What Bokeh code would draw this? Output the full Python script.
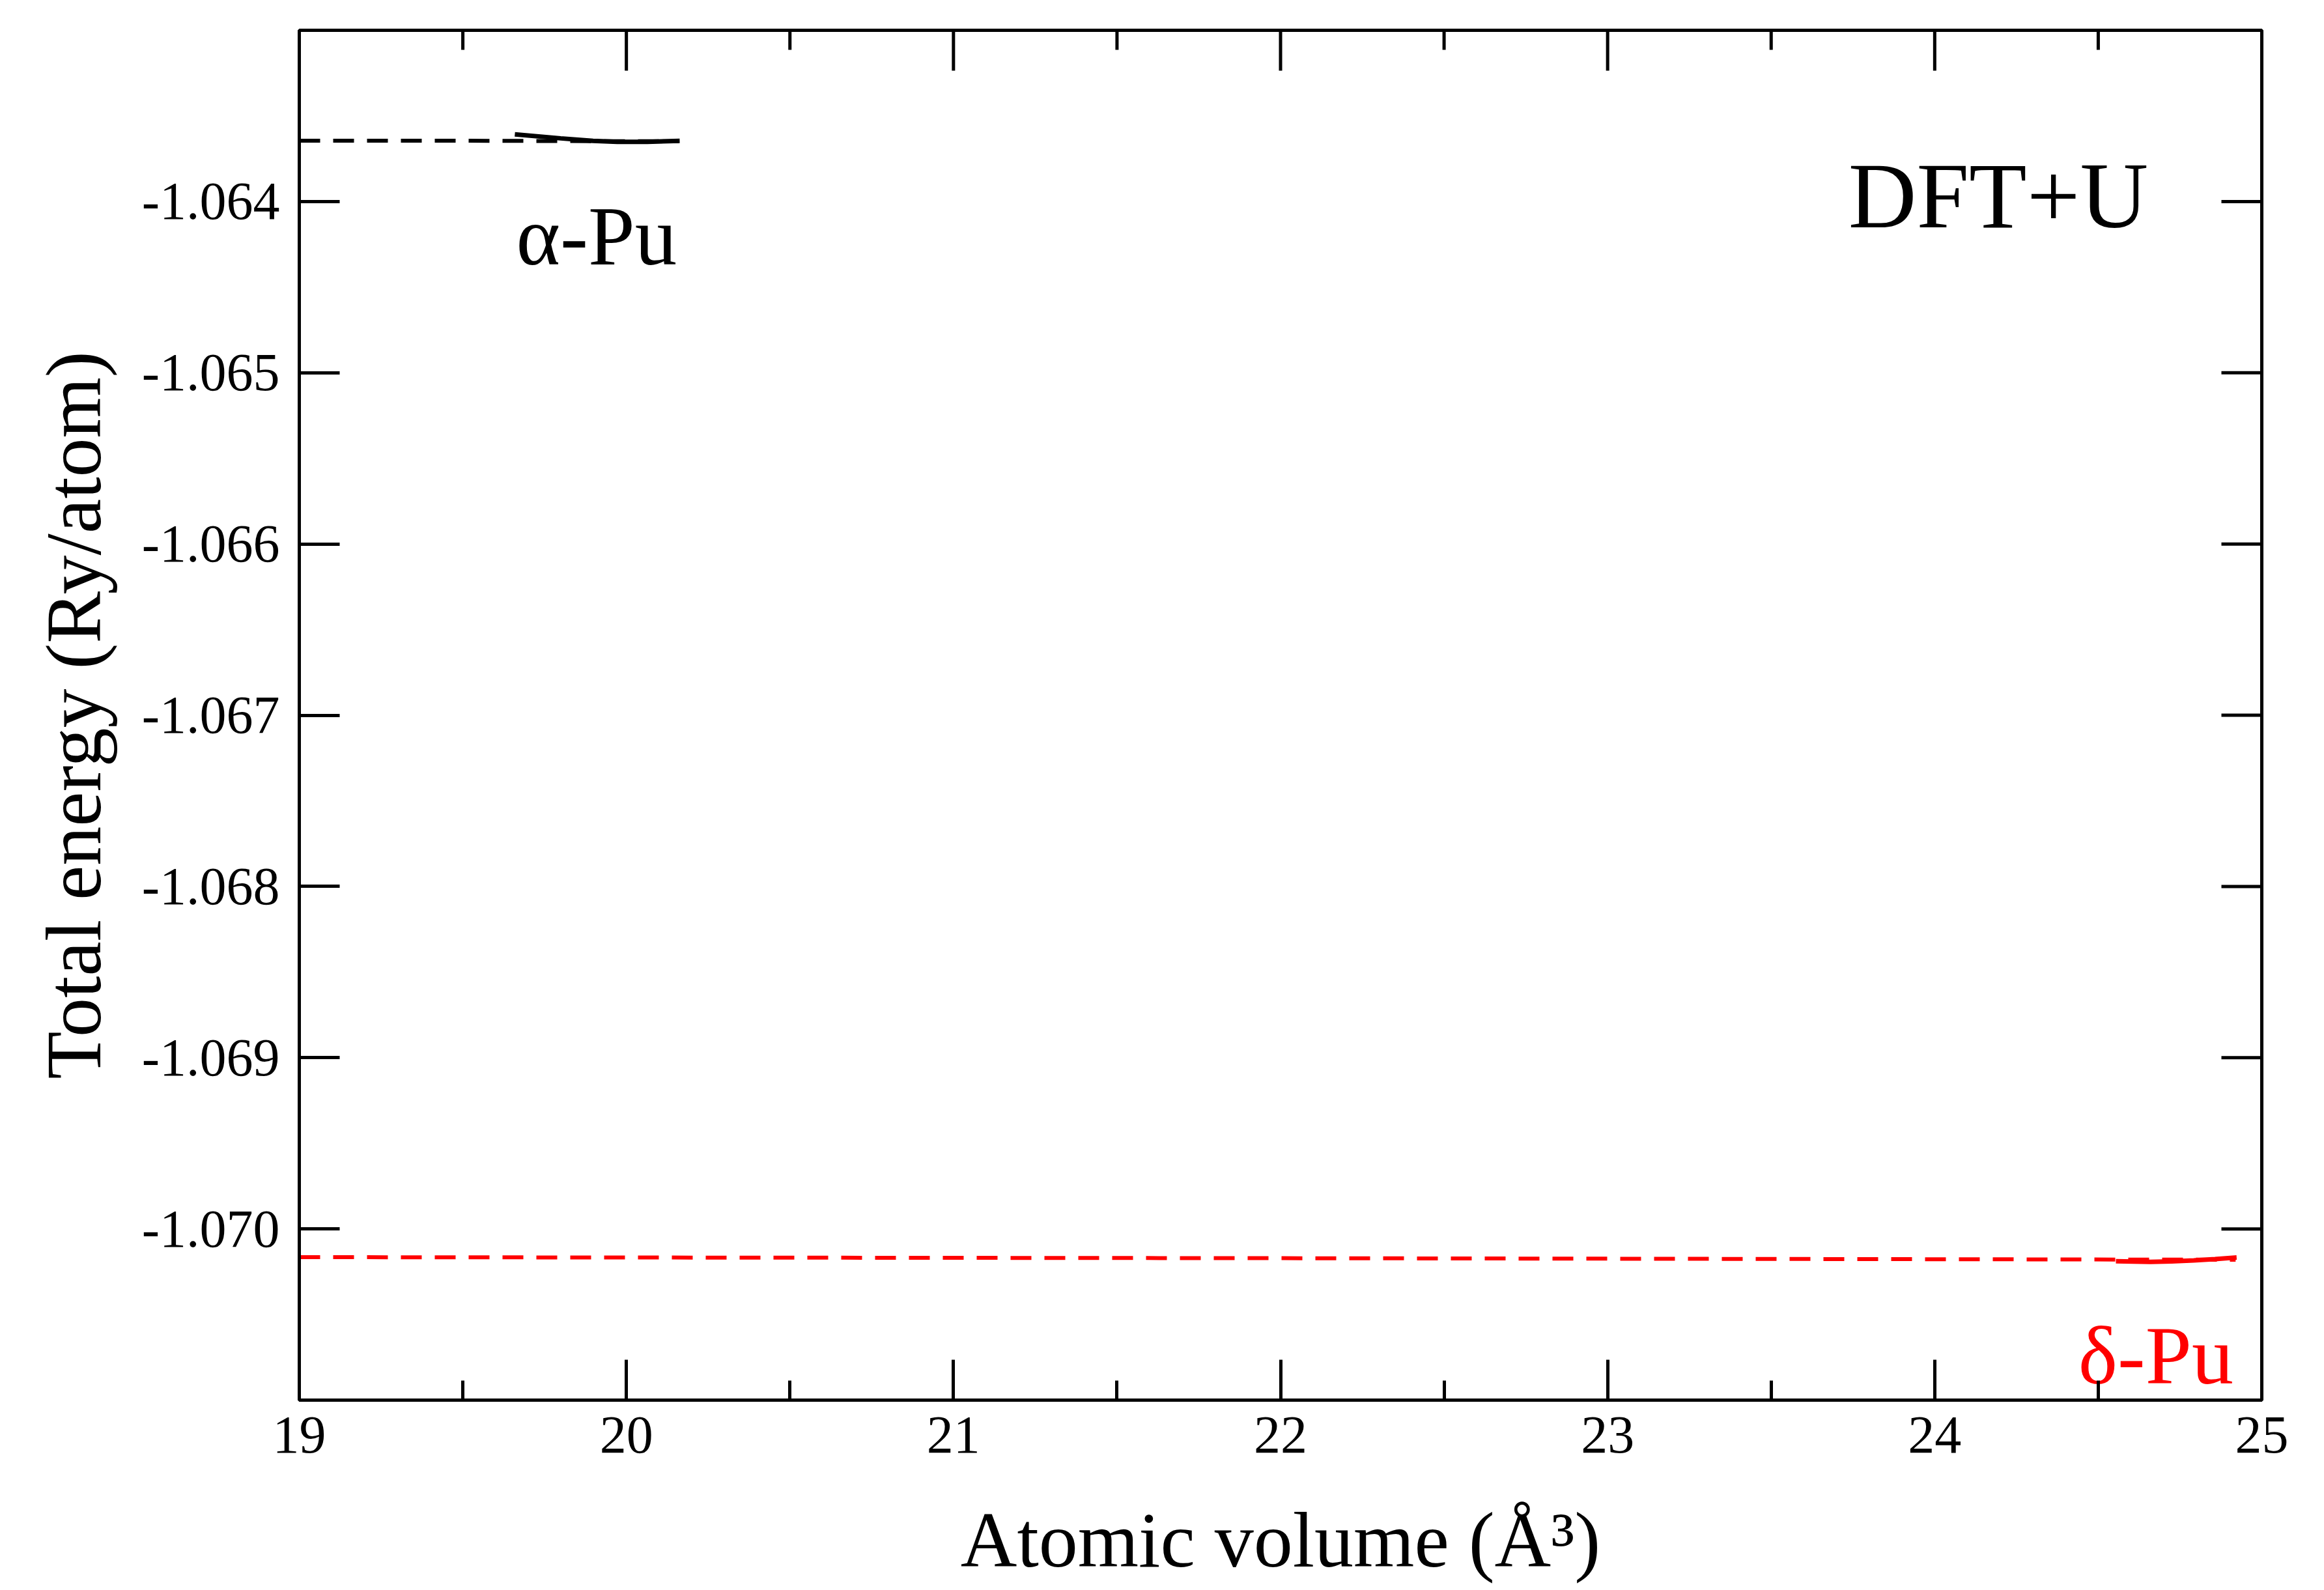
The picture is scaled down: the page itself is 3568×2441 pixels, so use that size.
import math
from bokeh.plotting import figure
from bokeh.models import Range1d, FixedTicker, PrintfTickFormatter, ColumnDataSource
from bokeh.core.properties import value
from bokeh.embed import file_html
from bokeh.resources import INLINE

# ---- data ----
x_lo, x_hi = 19, 25
y_lo, y_hi = -1.071, -1.063
x_major = [19, 20, 21, 22, 23, 24, 25]
x_minor = [19.5, 20.5, 21.5, 22.5, 23.5, 24.5]
y_major = [-1.070, -1.069, -1.068, -1.067, -1.066, -1.065, -1.064]

alpha_x = [19.659, 19.799, 19.898, 19.972, 20.064, 20.163]
alpha_y = [-1.063608, -1.063631, -1.063646, -1.063651, -1.063651, -1.063646]
alpha_fit_x = [19.0, 19.5, 20.0, 20.16]
alpha_fit_y = [-1.063645, -1.063645, -1.063648, -1.063648]

delta_x = [24.554, 24.658, 24.724, 24.792, 24.857, 24.923]
delta_y = [-1.070189, -1.070193, -1.070190, -1.070184, -1.070176, -1.070167]
delta_fit_x = [19.0, 20.0, 21.0, 22.0, 23.0, 24.0, 24.92]
delta_fit_y = [-1.070165, -1.070167, -1.070169, -1.070171, -1.070174, -1.070177, -1.070180]

label_text = ["DFT+U", "\u03b1-Pu", "\u03b4-Pu"]
label_x = [23.736, 19.663, 24.439]
label_y = [-1.063966, -1.064202, -1.070738]
label_color = ["black", "black", "red"]
label_size = ["145px", "129px", "128px"]

FONT = "Liberation Serif"

p = figure(width=3568, height=2441,
           x_range=Range1d(x_lo, x_hi), y_range=Range1d(y_lo, y_hi),
           output_backend="svg", toolbar_location=None,
           min_border_left=459, min_border_right=96,
           min_border_top=46, min_border_bottom=292)
p.grid.visible = False
p.outline_line_color = "black"
p.outline_line_width = 5
p.background_fill_color = "white"
p.border_fill_color = "white"


def style(ax):
    ax.axis_line_width = 5
    ax.axis_line_color = "black"
    ax.major_tick_in = 62
    ax.major_tick_out = 0
    ax.minor_tick_in = 30
    ax.minor_tick_out = 0
    ax.major_tick_line_width = 5
    ax.minor_tick_line_width = 5
    ax.major_label_text_font = FONT
    ax.axis_label_text_font = FONT
    ax.axis_label_text_font_style = "normal"
    ax.major_label_text_color = "black"
    ax.axis_label_text_color = "black"


xa = p.xaxis[0]
xa.ticker = FixedTicker(ticks=x_major, minor_ticks=x_minor)
style(xa)
xa.major_label_text_font_size = "82px"
xa.major_label_standoff = 26
xa.axis_label = "Atomic volume (\u00c5\u00b3)"
xa.axis_label_text_font_size = "120px"
xa.axis_label_standoff = 65

ya = p.yaxis[0]
ya.ticker = FixedTicker(ticks=y_major, minor_ticks=[])
style(ya)
ya.formatter = PrintfTickFormatter(format="%.3f")
ya.major_label_text_font_size = "82px"
ya.major_label_standoff = 30
ya.axis_label = "Total energy (Ry/atom)"
ya.axis_label_text_font_size = "120px"
ya.axis_label_standoff = 35

# mirrored inward ticks on the top and right edges
p.ray(x=x_major, y=[y_hi] * len(x_major), length=62, length_units="screen",
      angle=-math.pi / 2, line_color="black", line_width=5)
p.ray(x=x_minor, y=[y_hi] * len(x_minor), length=30, length_units="screen",
      angle=-math.pi / 2, line_color="black", line_width=5)
p.ray(x=[x_hi] * len(y_major), y=y_major, length=62, length_units="screen",
      angle=math.pi, line_color="black", line_width=5)

p.line(alpha_fit_x, alpha_fit_y, line_color="black", line_width=6, line_dash="32 20")
p.line(alpha_x, alpha_y, line_color="black", line_width=7)
p.line(delta_fit_x, delta_fit_y, line_color="red", line_width=6, line_dash="32 20")
p.line(delta_x, delta_y, line_color="red", line_width=7)

src = ColumnDataSource(dict(x=label_x, y=label_y, text=label_text,
                            color=label_color, size=label_size))
p.text(x="x", y="y", text="text", source=src, text_color="color",
       text_font_size="size", text_font=value(FONT),
       text_align="left", text_baseline="alphabetic")

open("out.html", "w").write(file_html(p, INLINE))
